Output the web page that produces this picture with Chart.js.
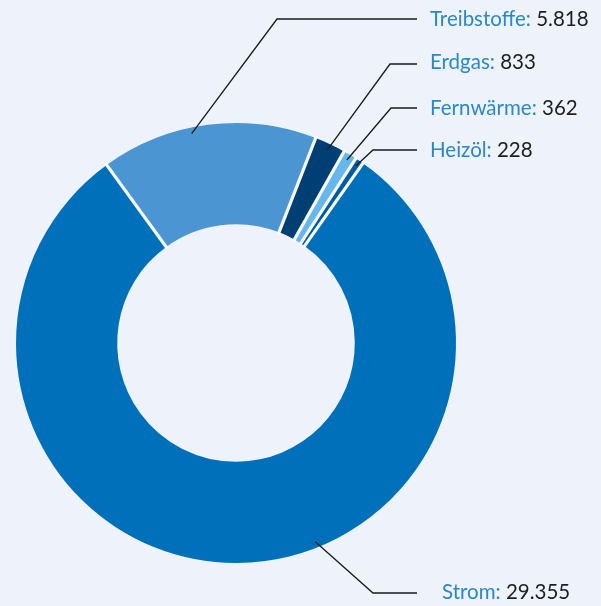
<!DOCTYPE html>
<html>
<head>
<meta charset="utf-8">
<script src="https://cdn.jsdelivr.net/npm/chart.js@4/dist/chart.umd.min.js"></script>
<style>
  html, body { margin: 0; padding: 0; background: #eef3fb; }
  #wrap { width: 601px; height: 606px; position: relative; }
</style>
</head>
<body>
<div id="wrap"><canvas id="c" width="601" height="606"></canvas></div>
<script>
// ---- data ----
const categories = ["Treibstoffe", "Erdgas", "Fernwärme", "Heizöl", "Strom"];
const values = [5818, 833, 362, 228, 29355];
const valueLabels = ["5.818", "833", "362", "228", "29.355"];
const colors = ["#4b96d2", "#003f73", "#66b7ea", "#005ca2", "#0070ba"];

// ---- label layout (leader lines / text placement) ----
const labelLayout = [
  { frac: 0.42, elbow: [277, 19],  lineEnd: 417, textX: 430, baseline: 26 },
  { frac: 0.5,  elbow: [390, 64],  lineEnd: 417, textX: 430, baseline: 69 },
  { frac: 0.5,  elbow: [391, 108], lineEnd: 417, textX: 430, baseline: 115 },
  { frac: 0.5,  elbow: [373, 150], lineEnd: 417, textX: 430, baseline: 157 },
  { frac: 0.426, elbow: [373, 593], lineEnd: 417, textX: 442, baseline: 599 }
];

const FONT = '20.5px Lato';

const leaderPlugin = {
  id: 'leaders',
  afterDatasetsDraw(chart) {
    const ctx = chart.ctx;
    const meta = chart.getDatasetMeta(0);
    ctx.save();
    // white separators between slices
    meta.data.forEach((arc) => {
      const p = arc.getProps(['x', 'y', 'startAngle', 'innerRadius', 'outerRadius'], true);
      const a = p.startAngle;
      ctx.beginPath();
      ctx.moveTo(p.x + Math.cos(a) * (p.innerRadius - 2), p.y + Math.sin(a) * (p.innerRadius - 2));
      ctx.lineTo(p.x + Math.cos(a) * (p.outerRadius + 2), p.y + Math.sin(a) * (p.outerRadius + 2));
      ctx.strokeStyle = '#f8fafe';
      ctx.lineWidth = 3.2;
      ctx.stroke();
    });
    meta.data.forEach((arc, i) => {
      const L = labelLayout[i];
      const p = arc.getProps(['x', 'y', 'startAngle', 'endAngle', 'outerRadius'], true);
      const a = p.startAngle + L.frac * (p.endAngle - p.startAngle);
      const r = p.outerRadius - 6;
      const sx = p.x + Math.cos(a) * r;
      const sy = p.y + Math.sin(a) * r;
      ctx.beginPath();
      ctx.moveTo(sx, sy);
      ctx.lineTo(L.elbow[0], L.elbow[1]);
      ctx.lineTo(L.lineEnd, L.elbow[1]);
      ctx.strokeStyle = '#1a1a1a';
      ctx.lineWidth = 1.3;
      ctx.stroke();

      ctx.font = FONT;
      ctx.textBaseline = 'alphabetic';
      ctx.textAlign = 'left';
      const name = categories[i] + ': ';
      ctx.fillStyle = '#2a87c9';
      ctx.fillText(name, L.textX, L.baseline);
      const w = ctx.measureText(name).width;
      ctx.fillStyle = '#1e1e1e';
      ctx.fillText(valueLabels[i], L.textX + w, L.baseline);
    });
    ctx.restore();
  }
};

new Chart(document.getElementById('c'), {
  type: 'doughnut',
  data: {
    labels: categories,
    datasets: [{
      data: values,
      backgroundColor: colors,
      borderWidth: 0,
      hoverOffset: 0
    }]
  },
  options: {
    responsive: false,
    animation: false,
    cutout: '54%',
    rotation: -36,
    layout: { padding: { left: 16, right: 145, top: 123, bottom: 43 } },
    plugins: {
      legend: { display: false },
      tooltip: { enabled: false }
    }
  },
  plugins: [leaderPlugin]
});
</script>
</body>
</html>
